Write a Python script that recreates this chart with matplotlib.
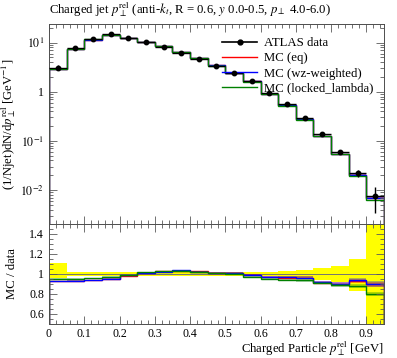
import matplotlib
matplotlib.use('Agg')
import matplotlib.pyplot as plt
from matplotlib.ticker import MultipleLocator, LogLocator, FuncFormatter, NullFormatter
from matplotlib.lines import Line2D
import numpy as np

plt.rcParams['font.family'] = ['Liberation Serif', 'DejaVu Serif']
plt.rcParams['mathtext.fontset'] = 'stix'

# ---- data ----
bin_edges = [0.0, 0.05, 0.10, 0.15, 0.20, 0.25, 0.30, 0.35, 0.40, 0.45, 0.50,
             0.55, 0.60, 0.65, 0.70, 0.75, 0.80, 0.85, 0.90, 0.95]
data_vals = [3.10, 7.9, 12.1, 14.8, 12.6, 10.3, 8.3, 6.2, 4.7, 3.4, 2.38,
             1.66, 0.93, 0.556, 0.288, 0.136, 0.060, 0.0219, 0.00766]
data_relerr_up = [0.11, 0.022, 0.022, 0.022, 0.022, 0.02, 0.02, 0.02, 0.02, 0.02,
                  0.02, 0.022, 0.022, 0.03, 0.04, 0.06, 0.08, 0.15, 0.52]
data_relerr_dn = [0.04, 0.022, 0.022, 0.022, 0.022, 0.02, 0.02, 0.02, 0.02, 0.02,
                  0.02, 0.022, 0.022, 0.03, 0.04, 0.06, 0.08, 0.17, 0.55]
mc_eq = [2.868, 7.347, 11.314, 14.134, 12.411, 10.434, 8.508, 6.417, 4.818, 3.451,
         2.404, 1.643, 0.900, 0.5365, 0.2779, 0.1244, 0.0543, 0.02037, 0.006856]
mc_wz = [2.874, 7.347, 11.338, 14.104, 12.436, 10.434, 8.491, 6.429, 4.808, 3.444,
         2.404, 1.643, 0.899, 0.5377, 0.2773, 0.1247, 0.0540, 0.02065, 0.006894]
mc_locked = [2.945, 7.505, 11.616, 14.400, 12.436, 10.475, 8.524, 6.405, 4.794, 3.424,
             2.380, 1.615, 0.881, 0.5226, 0.2693, 0.1238, 0.0532, 0.01927, 0.006128]
mc_relerr = [0.008, 0.006, 0.005, 0.005, 0.005, 0.005, 0.005, 0.006, 0.006, 0.007,
             0.008, 0.009, 0.010, 0.012, 0.014, 0.016, 0.018, 0.02, 0.03]

labels = ['ATLAS data', 'MC (eq)', 'MC (wz-weighted)', 'MC (locked_lambda)']
colors = ['red', 'blue', 'green']
title = r'Charged jet $p_\perp^{\rm rel}$ (anti-$k_t$, R = 0.6, $y$ 0.0-0.5, $p_\perp$ 4.0-6.0)'

edges = np.array(bin_edges)
centers = 0.5 * (edges[1:] + edges[:-1])
halfw = 0.5 * (edges[1:] - edges[:-1])
d = np.array(data_vals)
up = np.array(data_relerr_up)
dn = np.array(data_relerr_dn)
mcs = [np.array(mc_eq), np.array(mc_wz), np.array(mc_locked)]
me = np.array(mc_relerr)

W, H = 397, 358
fig = plt.figure(figsize=(W / 100, H / 100), dpi=100)
L, R = 49, 384
ax = fig.add_axes([L / W, 1 - 224 / H, (R - L) / W, 200 / H])
rax = fig.add_axes([L / W, 1 - 324 / H, (R - L) / W, 100 / H], sharex=ax)

fs = 9.2
tfs = 8.6
tc = '0.35'

# main panel
for v, c in zip(mcs, colors):
    ax.stairs(v * (1 + me), edges, baseline=v * (1 - me), fill=True, color=c, alpha=0.3, lw=0)
    ax.stairs(v, edges, color=c, lw=1.0)
ax.errorbar(centers, d, yerr=[d * dn, d * up], xerr=halfw, fmt='o', color='k',
            ms=3.2, lw=1.0, capsize=0, zorder=5)
ax.set_yscale('log')
ax.set_xlim(0, 0.95)
ax.set_ylim(0.00203, 24.0)

handles = [Line2D([], [], color='k', lw=1.2, marker='o', ms=3.5)] + \
          [Line2D([], [], color=c, lw=1.0) for c in colors]
ax.legend(handles, labels, loc='upper left', bbox_to_anchor=(0.50, 0.96),
          frameon=False, fontsize=fs, handlelength=2.8, handletextpad=0.55,
          labelspacing=0.25, borderaxespad=0)

def logfmt(v, pos):
    e = int(round(np.log10(v)))
    if e == 0:
        return '1'
    return r'$10^{%d}$' % e

ax.yaxis.set_major_locator(LogLocator(base=10, numticks=10))
ax.yaxis.set_minor_locator(LogLocator(base=10, subs=np.arange(2, 10), numticks=20))
ax.yaxis.set_major_formatter(FuncFormatter(logfmt))
ax.yaxis.set_minor_formatter(NullFormatter())
ax.xaxis.set_major_locator(MultipleLocator(0.1))
ax.xaxis.set_minor_locator(MultipleLocator(0.02))
ax.tick_params(which='both', direction='in', top=True, right=True, labelbottom=False,
               color=tc, labelsize=tfs, width=0.6)
ax.tick_params(which='major', length=6)
ax.tick_params(which='minor', length=3)
ax.set_ylabel(r'(1/Njet)dN/d$p_\perp^{\rm rel}$ [GeV$^{-1}$]', fontsize=fs)
ax.yaxis.set_label_coords(-0.092, 0.5)

# ratio panel
rax.stairs(1 + up, edges, baseline=1 - dn, fill=True, color='#ffff00', lw=0, zorder=0)
rax.axhline(1.0, color='0.45', lw=0.7, zorder=1)
for v, c in zip(mcs, colors):
    r = v / d
    rax.stairs(r * (1 + me), edges, baseline=r * (1 - me), fill=True, color=c, alpha=0.3, lw=0)
    rax.stairs(r, edges, color=c, lw=1.0)
rax.set_ylim(0.5, 1.5)
rax.set_xlim(0, 0.95)
rax.yaxis.set_major_locator(MultipleLocator(0.2))
rax.yaxis.set_minor_locator(MultipleLocator(0.05))
rax.yaxis.set_major_formatter(FuncFormatter(lambda v, p: '%g' % round(v, 2)))
rax.xaxis.set_major_formatter(FuncFormatter(lambda v, p: '%g' % round(v, 2)))
rax.tick_params(which='both', direction='in', top=True, right=True,
                color=tc, labelsize=tfs, width=0.6)
rax.tick_params(which='major', length=6)
rax.tick_params(which='minor', length=3)
rax.tick_params(axis='x', pad=3)
rax.set_ylabel('MC / data', fontsize=fs)
rax.yaxis.set_label_coords(-0.092, 0.5)
rax.set_xlabel(r'Charged Particle $p_\perp^{\rm rel}$ [GeV]', fontsize=fs, ha='right')
rax.xaxis.set_label_coords(1.0, -0.155)

for a in (ax, rax):
    for s in a.spines.values():
        s.set_color('0.3')
        s.set_linewidth(0.7)

fig.text(L / W, 1 - 13.3 / H, title, ha='left', va='baseline', fontsize=fs)

fig.savefig('out.png', dpi=100)
